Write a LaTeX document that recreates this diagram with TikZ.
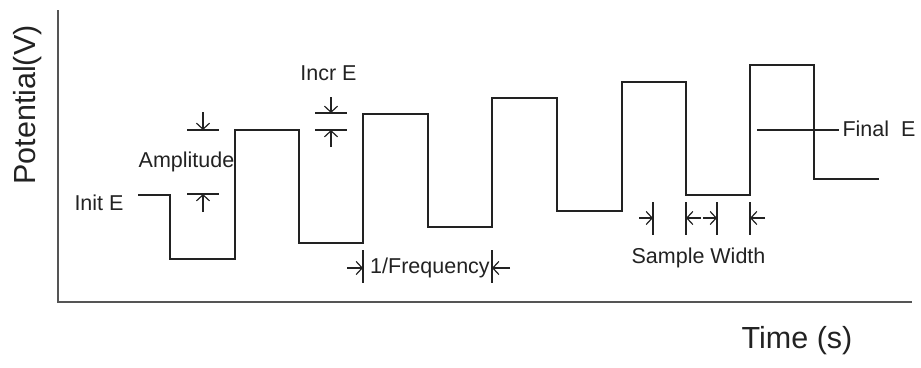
\documentclass[tikz,border=0pt]{standalone}
\usepackage{fontspec}
\setmainfont{Liberation Sans}
\usetikzlibrary{arrows.meta}
\definecolor{ink}{HTML}{222222}
\definecolor{axisc}{HTML}{555555}
\tikzset{
  wave/.style={draw=ink, line width=1.4pt, line join=miter},
  axisline/.style={draw=axisc, line width=1.5pt},
  bar/.style={draw=ink, line width=1.2pt},
  dimarrow/.style={draw=ink, line width=1.2pt, -{Straight Barb[length=6pt,width=13pt]}},
  lbl/.style={text=ink, font=\fontsize{21.5}{24}\selectfont, inner sep=0pt, anchor=base},
  biglbl/.style={text=ink, font=\fontsize{30.5}{34}\selectfont, inner sep=0pt, anchor=base},
  finalline/.style={draw=ink, line width=1.8pt}
}
\begin{document}
\begin{tikzpicture}[x=1pt,y=-1pt]
\useasboundingbox (0,0) rectangle (921,367);
% axes
\coordinate (ytop) at (58,10);
\coordinate (orig) at (58,302);
\coordinate (xend) at (912,302);
\draw[axisline] (ytop) -- (orig) -- (xend);
% waveform
\draw[wave] (138,195) -- (170,195) -- (170,259) -- (235,259) -- (235,130)
  -- (299,130) -- (299,243) -- (363,243) -- (363,114) -- (428,114)
  -- (428,227) -- (492,227) -- (492,98) -- (557,98) -- (557,211)
  -- (622,211) -- (622,82) -- (686,82) -- (686,195) -- (750,195)
  -- (750,65) -- (814,65) -- (814,179) -- (879,179);
% labels
\node[biglbl, rotate=90] (ylab) at (35,105) {Potential(V)};
\node[biglbl] (xlab) at (797,348) {Time (s)};
\node[lbl] (init) at (99,210) {Init E};
\node[lbl] (amp) at (186.5,167) {Amplitude};
\node[lbl] (incr) at (328.5,80) {Incr E};
\node[lbl] (freq) at (430,273) {1/Frequency};
\node[lbl] (sw) at (698.5,263) {Sample Width};
\node[lbl] (fin) at (879,136) {Final\ \ E};
% amplitude markers
\coordinate (a1) at (187,130); \coordinate (a2) at (219,130);
\coordinate (a3) at (187,194); \coordinate (a4) at (219,194);
\coordinate (a5) at (203,112); \coordinate (a6) at (203,130);
\coordinate (a7) at (203,212); \coordinate (a8) at (203,194);
\draw[bar] (a1) -- (a2);
\draw[bar] (a3) -- (a4);
\draw[dimarrow] (a5) -- (a6);
\draw[dimarrow] (a7) -- (a8);
% incr E markers
\coordinate (i1) at (315,113); \coordinate (i2) at (347,113);
\coordinate (i3) at (315,130); \coordinate (i4) at (347,130);
\coordinate (i5) at (331,97); \coordinate (i6) at (331,113);
\coordinate (i7) at (331,147); \coordinate (i8) at (331,130);
\draw[bar] (i1) -- (i2);
\draw[bar] (i3) -- (i4);
\draw[dimarrow] (i5) -- (i6);
\draw[dimarrow] (i7) -- (i8);
% 1/frequency markers
\coordinate (f1) at (363,250); \coordinate (f2) at (363,283);
\coordinate (f3) at (492,250); \coordinate (f4) at (492,283);
\coordinate (f5) at (347,268); \coordinate (f6) at (363,268);
\coordinate (f7) at (510,268); \coordinate (f8) at (492,268);
\draw[bar] (f1) -- (f2);
\draw[bar] (f3) -- (f4);
\draw[dimarrow] (f5) -- (f6);
\draw[dimarrow] (f7) -- (f8);
% sample width markers
\foreach \x [count=\k] in {653,686,717,750} {
  \coordinate (sb\k t) at (\x,202);
  \coordinate (sb\k b) at (\x,235);
  \draw[bar] (sb\k t) -- (sb\k b);
}
\coordinate (s1) at (639,218); \coordinate (s2) at (653,218);
\coordinate (s3) at (701,218); \coordinate (s4) at (686,218);
\coordinate (s5) at (703,218); \coordinate (s6) at (717,218);
\coordinate (s7) at (765,218); \coordinate (s8) at (750,218);
\draw[dimarrow] (s1) -- (s2);
\draw[dimarrow] (s3) -- (s4);
\draw[dimarrow] (s5) -- (s6);
\draw[dimarrow] (s7) -- (s8);
% final E line
\coordinate (fe1) at (757,130);
\draw[finalline] (fe1) -- ([xshift=-3pt]fin.west |- fe1);
\end{tikzpicture}
\end{document}
